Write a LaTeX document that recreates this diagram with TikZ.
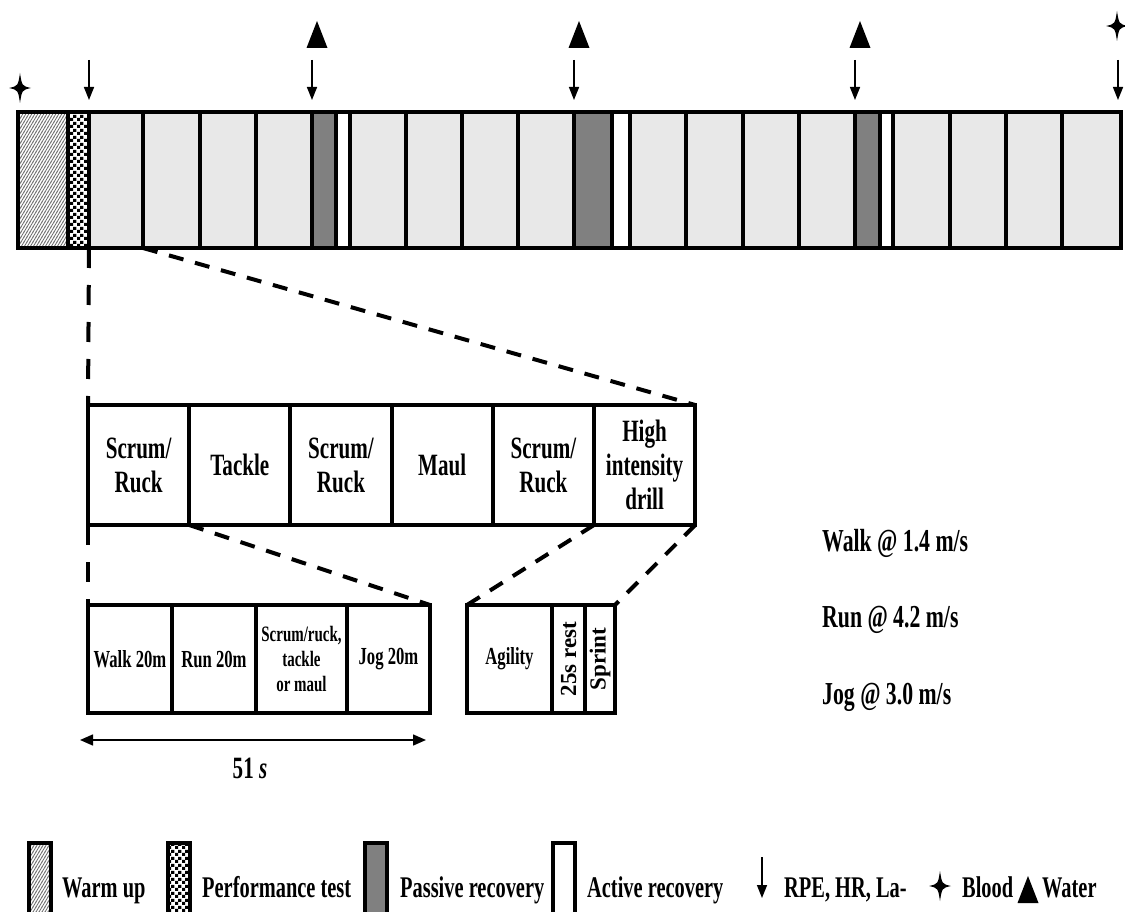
\documentclass[tikz,border=0pt]{standalone}
\usepackage{fontspec}
\setmainfont{Liberation Serif}[FakeStretch=0.68]
\newfontfamily\plainserif{Liberation Serif}
\usepackage{tikz}
\usetikzlibrary{arrows.meta, positioning, patterns}
\definecolor{cWork}{RGB}{232,232,232}
\definecolor{cPass}{RGB}{128,128,128}
\definecolor{cHatch}{RGB}{110,110,110}
% fine fills for the warm-up and test blocks
\pgfdeclarepatternformonly{finehatch}{\pgfqpoint{-0.5pt}{-0.5pt}}{\pgfqpoint{3.5pt}{5.5pt}}{\pgfqpoint{3pt}{5pt}}{
	\pgfsetlinewidth{0.8pt}
	\pgfpathmoveto{\pgfqpoint{-0.3pt}{-0.5pt}}
	\pgfpathlineto{\pgfqpoint{3.3pt}{5.5pt}}
	\pgfusepath{stroke}
}
\pgfdeclarepatternformonly{finechecks}{\pgfpointorigin}{\pgfqpoint{7pt}{7pt}}{\pgfqpoint{7pt}{7pt}}{
	\pgfpathrectangle{\pgfpointorigin}{\pgfqpoint{3.5pt}{3.5pt}}
	\pgfpathrectangle{\pgfqpoint{3.5pt}{3.5pt}}{\pgfqpoint{3.5pt}{3.5pt}}
	\pgfusepath{fill}
}
\tikzset{
	barcell/.style  ={rectangle, draw=black, line width=4pt, inner sep=0pt, outer sep=0pt, anchor=north west, minimum height=136pt},
	warmfill/.style ={pattern=finehatch, pattern color=cHatch},
	testfill/.style ={pattern=finechecks, pattern color=black},
	workfill/.style ={fill=cWork},
	passfill/.style ={fill=cPass},
	actfill/.style  ={fill=white},
	% zoomed-in session blocks
	drillcell/.style={rectangle, draw=black, line width=4pt, inner sep=0pt, outer sep=0pt, anchor=north west, minimum width=101.2pt, minimum height=120pt, align=center, font=\fontsize{31}{34}\selectfont\bfseries},
	runcell/.style  ={rectangle, draw=black, line width=4pt, inner sep=0pt, outer sep=0pt, anchor=north west, minimum height=108pt, align=center, font=\fontsize{24.5}{27}\selectfont\bfseries},
	zoomv/.style    ={line width=4pt, dash pattern=on 20pt off 17pt},
	zoomd/.style    ={line width=4pt, dash pattern=on 15pt off 12pt},
	meas/.style     ={-{Triangle[length=13pt, width=10pt]}, line width=1.5pt},
	% legend
	keybox/.style   ={rectangle, draw=black, line width=4pt, inner sep=0pt, outer sep=0pt, anchor=north west, minimum width=22pt, minimum height=76pt},
	keytext/.style  ={anchor=base west, inner sep=0pt, font=\fontsize{30}{33}\selectfont\bfseries},
	speed/.style    ={anchor=west, inner sep=0pt, font=\fontsize{32}{35}\selectfont\bfseries},
}

\begin{document}
\begin{tikzpicture}[x=1pt, y=-1pt]
	\useasboundingbox (0,0) rectangle (1125,912);
	% session bar
	\foreach \xa/\xb/\kind [count=\i] in {18/68/warmfill, 68/89/testfill, 89/143/workfill, 143/200/workfill, 200/256/workfill, 256/312/workfill, 312/336/passfill, 336/350/actfill, 350/406/workfill, 406/462/workfill, 462/518/workfill, 518/574/workfill, 574/612/passfill, 612/630/actfill, 630/686/workfill, 686/743/workfill, 743/799/workfill, 799/855/workfill, 855/880/passfill, 880/893/actfill, 893/950/workfill, 950/1006/workfill, 1006/1062/workfill, 1062/1121/workfill}
		\node[barcell, \kind, minimum width={(\xb-\xa)*1pt}] (seg\i) at (\xa,112) {};
	% measurement arrows
	\foreach \s in {3,7,13,19}
		\draw[meas] ([yshift=52pt]seg\s.north west) -- ([yshift=12pt]seg\s.north west);
	\draw[meas] ([xshift=-3pt, yshift=52pt]seg24.north east) -- ([xshift=-3pt, yshift=12pt]seg24.north east);
	% water and blood marks
	\foreach \tx/\ty in {317/48, 579/48, 860/48, 1028/903}
		\fill (\tx-10.5,\ty) -- (\tx+10.5,\ty) -- (\tx,\ty-27) -- cycle;
	\foreach \sx/\sy in {20/88, 1117/26, 940/886}
		\fill (\sx,\sy-15) .. controls (\sx+2,\sy-2) .. (\sx+11,\sy) .. controls (\sx+2,\sy+2) .. (\sx,\sy+15) .. controls (\sx-2,\sy+2) .. (\sx-11,\sy) .. controls (\sx-2,\sy-2) .. (\sx,\sy-15) -- cycle;

	% one block
	\foreach \txt [count=\i] in {{Scrum/\\Ruck}, Tackle, {Scrum/\\Ruck}, Maul, {Scrum/\\Ruck}, {High\\intensity\\drill}}
		\node[drillcell] (mid\i) at ({88+101.2*(\i-1)},405) {\txt};

	% one drill
	\node[runcell, minimum width=84pt] (walk) at (88,605) {Walk 20m};
	\node[runcell, minimum width=84pt, right=0pt of walk] (run) {Run 20m};
	\node[runcell, minimum width=91pt, right=0pt of run, font=\fontsize{22}{25}\selectfont\bfseries] (contact) {Scrum/ruck,\\tackle\\or maul};
	\node[runcell, minimum width=83pt, right=0pt of contact] (jog) {Jog 20m};
	\node[runcell, minimum width=85pt] (agil) at (467,605) {Agility};
	\node[runcell, minimum width=33pt, right=0pt of agil] (rest) {};
	\node[runcell, minimum width=30pt, right=0pt of rest] (sprint) {};
	\node[rotate=90, inner sep=0pt, font=\plainserif\fontsize{23}{26}\selectfont\bfseries] (restlbl) at (rest.center) {25s rest};
	\node[rotate=90, inner sep=0pt, font=\plainserif\fontsize{23}{26}\selectfont\bfseries] (sprintlbl) at (sprint.center) {Sprint};

	% zoom lines
	\draw[zoomv] (seg3.south west) -- (mid1.north west);
	\draw[zoomd] (seg3.south east) -- (mid6.north east);
	\draw[zoomv] (mid1.south west) -- (walk.north west);
	\draw[zoomd] (mid1.south east) -- (jog.north east);
	\draw[zoomd] (mid6.south west) -- (agil.north west);
	\draw[zoomd] (mid6.south east) -- (sprint.north east);

	% duration
	\coordinate (spanL) at (80,740);
	\coordinate (spanR) at (426,740);
	\draw[{Triangle[length=13pt, width=11pt]}-{Triangle[length=13pt, width=11pt]}, line width=1.5pt] (spanL) -- (spanR);
	\node[font=\fontsize{31}{34}\selectfont\bfseries] (span) at (250,768) {51 \textit{s}};

	% speeds
	\node[speed] (walkspd) at (822,543) {Walk @ 1.4 m/s};
	\node[speed] (runspd) at (822,620) {Run @ 4.2 m/s};
	\node[speed] (jogspd) at (822,697) {Jog @ 3.0 m/s};

	% legend
	\node[keybox, warmfill] (key1) at (29,843) {};
	\node[keytext] (lab1) at (62,897) {Warm up};
	\node[keybox, testfill] (key2) at (168,843) {};
	\node[keytext] (lab2) at (202,897) {Performance test};
	\node[keybox, passfill] (key3) at (365,843) {};
	\node[keytext] (lab3) at (400,897) {Passive recovery};
	\node[keybox, actfill] (key4) at (553,843) {};
	\node[keytext] (lab4) at (587,897) {Active recovery};
	\coordinate (rpeTop) at (762,857);
	\coordinate (rpeTip) at (762,898);
	\draw[meas] (rpeTop) -- (rpeTip);
	\node[keytext] (lab5) at (784,897) {RPE, HR, La-};
	\node[keytext] (lab6) at (962,897) {Blood};
	\node[keytext] (lab7) at (1042,897) {Water};
\end{tikzpicture}
\end{document}
